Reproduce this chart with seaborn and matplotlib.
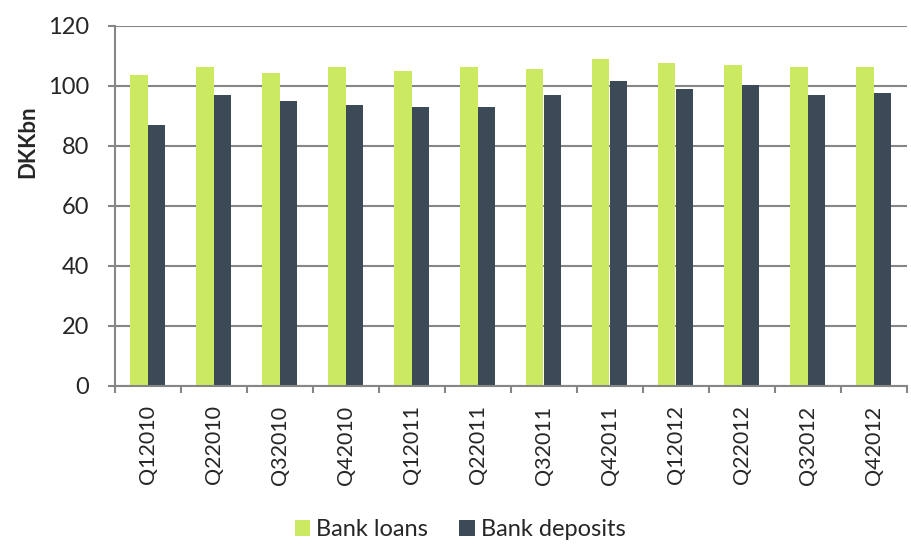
import numpy as np
import pandas as pd
import matplotlib
matplotlib.use("Agg")
import matplotlib.pyplot as plt
import seaborn as sns
from matplotlib.patches import Patch

quarters = ["Q12010", "Q22010", "Q32010", "Q42010",
            "Q12011", "Q22011", "Q32011", "Q42011",
            "Q12012", "Q22012", "Q32012", "Q42012"]
bank_loans = [103.6, 106.3, 104.2, 106.3, 104.9, 106.3,
              105.6, 108.9, 107.6, 106.9, 106.3, 106.3]
bank_deposits = [86.9, 97.0, 94.9, 93.6, 92.9, 92.9,
                 97.0, 101.6, 98.9, 100.2, 97.0, 97.6]
series_names = ["Bank loans", "Bank deposits"]
colors = ["#CCE962", "#3C4A58"]

df = pd.DataFrame({
    "quarter": quarters * 2,
    "value": bank_loans + bank_deposits,
    "series": [series_names[0]] * len(quarters) + [series_names[1]] * len(quarters),
})

sns.set_theme(style="white")
plt.rcParams["font.family"] = ["Lato", "DejaVu Sans"]

W, H = 911, 549
fig = plt.figure(figsize=(W / 100, H / 100), dpi=100)
ax = fig.add_axes([114.5 / W, 1 - 386 / H, (906.5 - 114.5) / W, 360 / H])

sns.barplot(data=df, x="quarter", y="value", hue="series", order=quarters,
            hue_order=series_names, palette=colors, width=0.545,
            saturation=1, ax=ax, legend=False, zorder=3)
for p in ax.patches:
    p.set_edgecolor("none")

grid_color = "#868686"
ax.set_ylim(0, 120)
ax.set_yticks(np.arange(0, 121, 20))
ax.set_xlim(-0.5, len(quarters) - 0.5)
ax.yaxis.grid(True, color=grid_color, linewidth=1.5, zorder=0)
ax.set_axisbelow(True)

for side in ["top", "right"]:
    ax.spines[side].set_visible(False)
for side in ["left", "bottom"]:
    ax.spines[side].set_color(grid_color)
    ax.spines[side].set_linewidth(1.5)
    ax.spines[side].set_zorder(4)

# y ticks outward; x ticks sit at category boundaries
ax.tick_params(axis="y", direction="out", length=5, width=1.5, color=grid_color,
               labelsize=17, pad=13, left=True)
ax.set_xticks(np.arange(len(quarters)))
ax.set_xticklabels(quarters, rotation=90, fontsize=15.5)
ax.tick_params(axis="x", which="major", length=0, pad=14)
ax.set_xticks(np.arange(-0.5, len(quarters), 1), minor=True)
ax.tick_params(axis="x", which="minor", direction="out", length=5, width=1.5,
               color=grid_color, bottom=True)

ax.set_xlabel("")
ax.set_ylabel("")
fig.text(27.5 / W, 1 - 141.5 / H, "DKKbn", rotation=90, ha="center", va="center",
         fontsize=16, fontweight="bold")

handles = [Patch(facecolor=c, edgecolor="none", label=n) for n, c in zip(series_names, colors)]
fig.legend(handles=handles, loc="center", bbox_to_anchor=(460 / W, 1 - 530 / H),
           ncol=2, frameon=False, fontsize=17, handlelength=0.67, handleheight=0.67,
           handletextpad=0.25, columnspacing=1.3)

fig.savefig("out.png", dpi=100)
